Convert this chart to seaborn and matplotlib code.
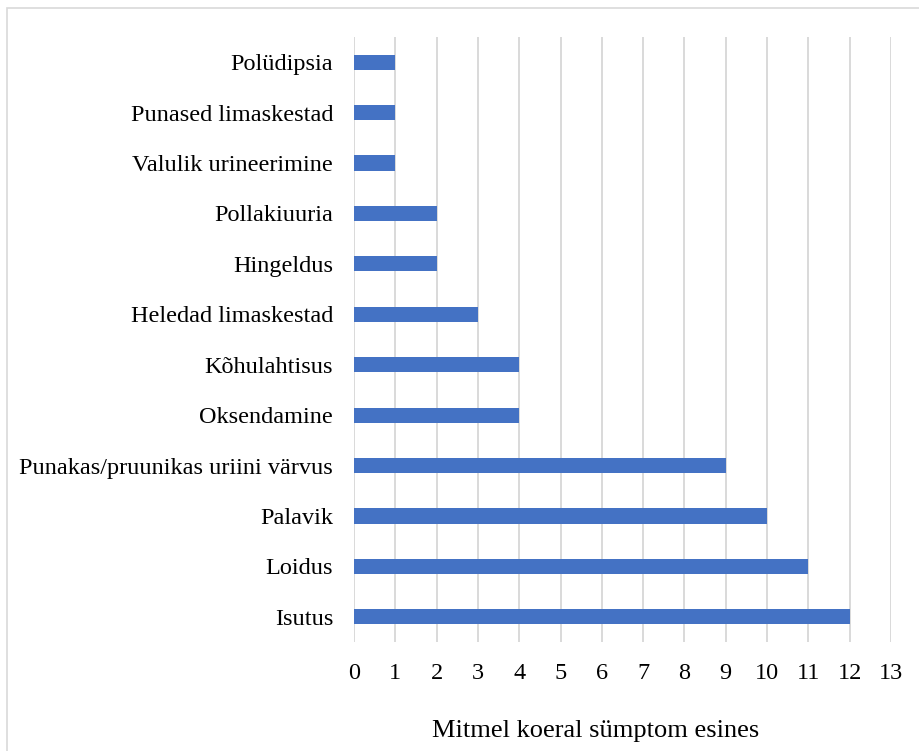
import matplotlib
matplotlib.use("Agg")
import matplotlib.pyplot as plt
import seaborn as sns
import pandas as pd
from matplotlib.patches import Rectangle

symptoms = [
    "Polüdipsia",
    "Punased limaskestad",
    "Valulik urineerimine",
    "Pollakiuuria",
    "Hingeldus",
    "Heledad limaskestad",
    "Kõhulahtisus",
    "Oksendamine",
    "Punakas/pruunikas uriini värvus",
    "Palavik",
    "Loidus",
    "Isutus",
]
counts = [1, 1, 1, 2, 2, 3, 4, 4, 9, 10, 11, 12]
x_ticks = list(range(0, 14))

df = pd.DataFrame({"symptom": symptoms, "count": counts})

sns.set_theme(style="white")
plt.rcParams["font.family"] = ["Liberation Serif", "DejaVu Serif"]

fig = plt.figure(figsize=(9.2, 7.51), dpi=100)
ax = fig.add_axes([354 / 920, 1 - 642 / 751, (891 - 354) / 920, (642 - 37) / 751])

sns.barplot(data=df, y="symptom", x="count", orient="h", color="#4472C4",
            saturation=1, width=0.3, linewidth=0, ax=ax, zorder=3)

ax.set_xlim(0, 13)
ax.set_ylim(len(symptoms) - 0.5, -0.5)
ax.set_xticks(x_ticks)
ax.set_xticklabels([str(t) for t in x_ticks])
ax.grid(axis="x", color="#d9d9d9", linewidth=1.4, zorder=0)
ax.grid(axis="y", visible=False)
for s in ax.spines.values():
    s.set_visible(False)
ax.tick_params(axis="both", length=0, labelsize=17.5, labelcolor="black")
ax.tick_params(axis="x", pad=15)
ax.tick_params(axis="y", pad=15)
ax.set_ylabel("")
ax.set_xlabel("Mitmel koeral sümptom esines", fontsize=19, color="black")
ax.xaxis.set_label_coords((596 - 354) / 537, -(737 - 642) / 605)
ax.xaxis.label.set_verticalalignment("baseline")

fig.patches.append(Rectangle((7 / 920, -0.01), 1.0, 1 - 8 / 751 + 0.01,
                             transform=fig.transFigure, fill=False,
                             edgecolor="#d9d9d9", linewidth=1.2))

fig.savefig("out.png", dpi=100)
